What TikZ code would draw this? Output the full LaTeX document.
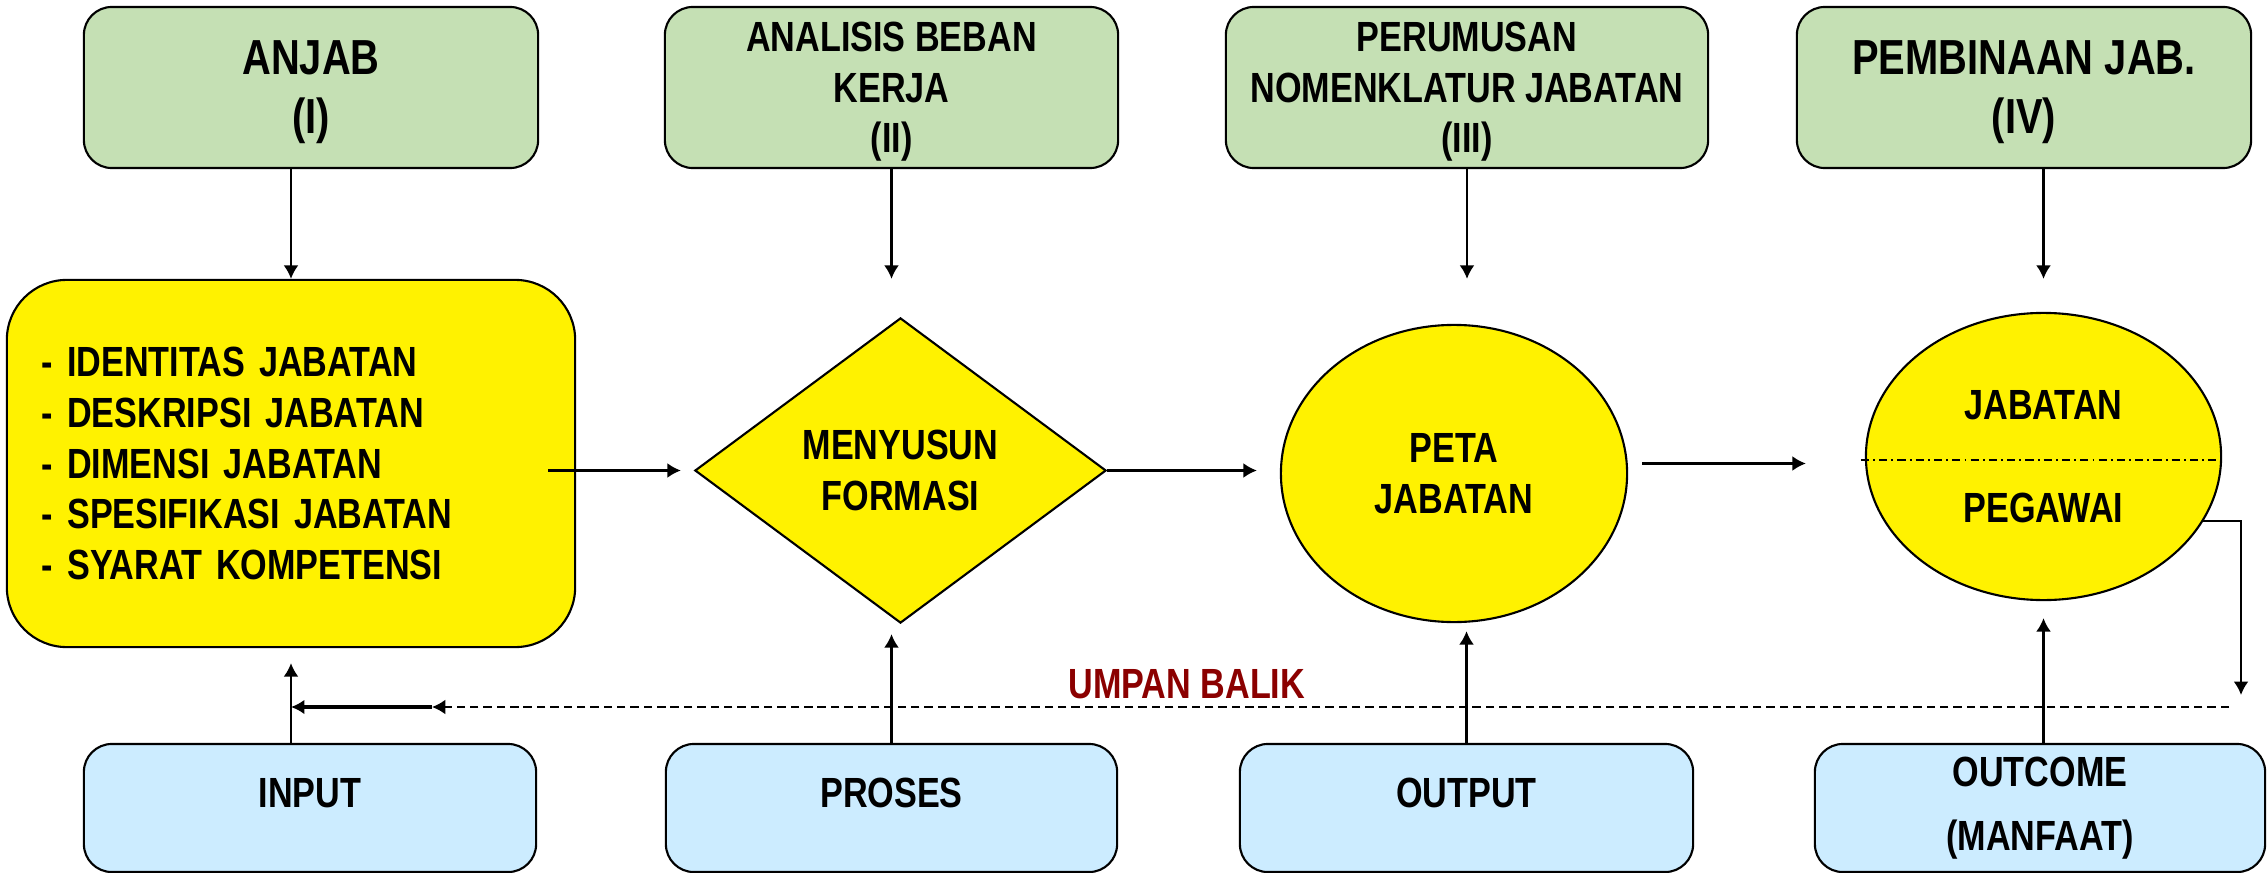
\documentclass[tikz,border=0pt]{standalone}
\usepackage{fontspec}
\setmainfont{Liberation Sans}[FakeStretch=0.81]
\usetikzlibrary{arrows.meta,shapes.geometric,positioning}
\definecolor{kotakhijau}{HTML}{C5E0B4}
\definecolor{kotakbiru}{HTML}{CCECFF}
\definecolor{merahtua}{HTML}{8B0000}
\begin{document}
\begin{tikzpicture}[>={Latex[length=3.8pt,width=4.2pt]},x=0.01cm,y=-0.01cm,line width=0.6pt,
    teks/.style={font=\fontsize{12}{14.4}\selectfont\bfseries,align=center,inner sep=0pt},
    besar/.style={font=\fontsize{14}{16.8}\selectfont\bfseries},
    kotakatas/.style={teks,draw,fill=kotakhijau,rounded corners=0.28cm,minimum height=1.61cm,text depth=0cm},
    kotakbawah/.style={teks,draw,fill=kotakbiru,rounded corners=0.28cm,minimum height=1.28cm,minimum width=4.52cm},
    kuning/.style={teks,draw,fill=yellow}]
                \useasboundingbox(0,0)rectangle(2267,873);
                % baris atas
                \node[kotakatas,besar,minimum width=4.54cm] (anjab) at (311,87.5) {ANJAB\\(I)};
                \node[kotakatas,minimum width=4.53cm] (abk) at (891.5,87.5) {ANALISIS BEBAN\\KERJA\\(II)};
                \node[kotakatas,minimum width=4.82cm] (pnj) at (1467,87.5) {PERUMUSAN\\NOMENKLATUR JABATAN\\(III)};
                \node[kotakatas,besar,minimum width=4.54cm] (pjab) at (2024,87.5) {PEMBINAAN JAB.\\(IV)};
                % baris tengah
                \node[kuning,rounded corners=0.6cm,minimum width=5.68cm,minimum height=3.67cm,text width=4.98cm,align=left] (yb) at (291,463.5)
                    {- IDENTITAS JABATAN\\- DESKRIPSI JABATAN\\- DIMENSI JABATAN\\- SPESIFIKASI JABATAN\\- SYARAT KOMPETENSI};
                \node[kuning,diamond,minimum width=4.11cm,minimum height=3.05cm] (dia) at (900.5,470.5) {MENYUSUN\\FORMASI};
                \node[kuning,ellipse,minimum width=3.46cm,minimum height=2.97cm] (peta) at (1454,473.5) {PETA\\JABATAN};
                \node[kuning,ellipse,minimum width=3.55cm,minimum height=2.87cm] (jp) at (2043.5,456.5) {JABATAN\\[0.52cm]PEGAWAI};
                \draw[line width=0.4pt,dash pattern=on 2.3pt off 1.2pt on 0.5pt off 1.2pt] ([shift={(-4,3.5)}]jp.west)--([shift={(-4,3.5)}]jp.east);
                % baris bawah
                \node[kotakbawah,text depth=0.3cm] (input) at (310,808) {INPUT};
                \node[kotakbawah,text depth=0.3cm,minimum width=4.51cm] (proses) at (891.5,808) {PROSES};
                \node[kotakbawah,text depth=0.3cm,minimum width=4.53cm] (output) at (1466.5,808) {OUTPUT};
                \node[kotakbawah,minimum width=4.50cm] (outcome) at (2040,808) {OUTCOME\\[0.14cm](MANFAAT)};
                % panah turun
                \draw[->] (anjab.south -| yb.north)--(yb.north);
                \draw[->] (abk.south)--(abk.south |- yb.north);
                \draw[->] (pnj.south)--(pnj.south |- yb.north);
                \draw[->] (pjab.south -| jp.north)--(jp.north |- yb.north);
                % panah mendatar
                \path (yb.east |- dia.west) ++(-28,0) coordinate (ybkeluar);
                \draw[->,shorten >=0.13cm] (ybkeluar)--(dia.west);
                \draw[->,shorten >=0.23cm] (dia.east)--(dia.east -| peta.west);
                \draw[->,shorten <=0.14cm,shorten >=0.59cm] ([yshift=0.1cm]peta.east)--([yshift=0.1cm]peta.east -| jp.west);
                % panah naik
                \draw[->] (input.north -| yb.south)--([yshift=-0.15cm]yb.south);
                \draw[->,shorten >=0.1cm] (proses.north)--(proses.north |- dia.south);
                \draw[->,shorten >=0.08cm] (output.north)--(output.north |- peta.south);
                \draw[->,shorten >=0.17cm] (outcome.north -| jp.south)--(jp.south);
                % umpan balik
                \coordinate (balikturun) at (2241,695);
                \coordinate (balikkanan) at (2229,707);
                \coordinate (balikkiri) at (432,707);
                \draw[->] (jp.-22) -| (balikturun);
                \draw[->,line width=0.5pt,dash pattern=on 2.4pt off 1.4pt] (balikkanan)--node[teks,pos=0.58,above=0.07cm,text=merahtua] (umpan) {UMPAN BALIK}(balikkiri);
                \draw[->,line width=1.1pt] (balikkiri)--(balikkiri -| yb.south);
\end{tikzpicture}
\end{document}
